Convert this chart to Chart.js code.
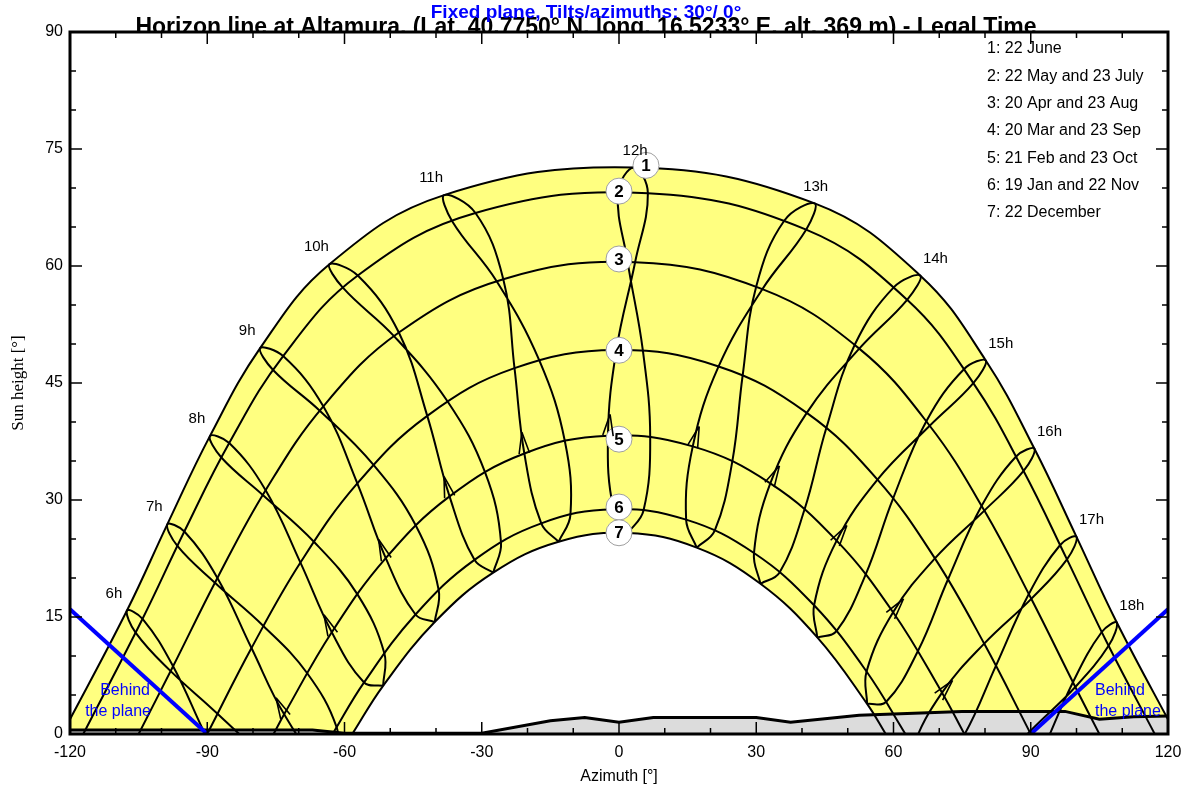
<!DOCTYPE html>
<html lang="en">
<head>
<meta charset="UTF-8">
<title>Horizon line at Altamura - sun path</title>
<script src="https://cdn.jsdelivr.net/npm/chart.js"></script>
<style>
  body { margin: 0; background: #fff; }
</style>
</head>
<body>
<canvas id="chart" width="1194" height="790"></canvas>
<script>
// legal hours of the analemma loops
const hours = [6, 7, 8, 9, 10, 11, 12, 13, 14, 15, 16, 17, 18];

// sun azimuth / height at each hour
// 1: 22 June
const az1  = [-107.55, -98.73, -89.42, -78.44, -63.30, -38.23, 3.29, 42.77, 65.88, 80.17, 90.81, 100.00, 108.81];
const alt1 = [15.83, 26.88, 38.19, 49.47, 60.22, 69.09, 72.63, 68.03, 58.76, 47.89, 36.57, 25.28, 14.29];
// 2: 22 May / 23 July
const az2a  = [-104.14, -95.01, -85.20, -73.41, -57.10, -31.37, 6.31, 40.90, 62.98, 77.45, 88.43, 97.92, 107.01];
const alt2a = [14.77, 25.96, 37.30, 48.45, 58.78, 66.79, 69.33, 64.66, 55.67, 44.99, 33.72, 22.39, 11.31];
const az2b  = [-105.62, -96.53, -86.92, -75.61, -60.36, -36.47, -0.21, 36.15, 60.15, 75.45, 86.80, 96.43, 105.52];
const alt2b = [12.97, 24.11, 35.45, 46.67, 57.22, 65.75, 69.42, 65.83, 57.32, 46.80, 35.58, 24.23, 13.08];
// 3: 20 Apr / 23 Aug
const az3a  = [-97.47, -87.78, -77.24, -64.63, -48.12, -25.29, 3.52, 31.33, 52.51, 67.91, 79.86, 90.11, 99.74];
const alt3a = [8.68, 20.01, 31.26, 42.01, 51.47, 58.30, 60.49, 57.03, 49.41, 39.52, 28.64, 17.33, 6.03];
const az3b  = [-97.99, -88.32, -77.86, -65.41, -49.18, -26.74, 1.89, 29.98, 51.53, 67.18, 79.27, 89.58, 99.22];
const alt3b = [8.06, 19.39, 30.65, 41.45, 51.01, 58.04, 60.53, 57.35, 49.90, 40.10, 29.25, 17.95, 6.64];
// 4: 20 Mar / 23 Sep
const az4a  = [-90.25, -80.33, -69.63, -57.20, -41.91, -22.84, -0.58, 21.77, 41.04, 56.50, 69.05, 79.82, 89.75];
const alt4a = [-0.29, 11.02, 21.98, 32.13, 40.79, 46.90, 49.22, 47.12, 41.17, 32.62, 22.52, 11.59, 0.29];
const az4b  = [-87.76, -77.73, -66.69, -53.66, -37.46, -17.42, 5.23, 27.02, 45.30, 59.90, 71.90, 82.38, 92.24];
const alt4b = [2.59, 13.85, 24.65, 34.49, 42.63, 47.89, 49.11, 45.93, 39.20, 30.18, 19.81, 8.74, -2.59];
// 5: 21 Feb / 23 Oct
const az5a  = [-82.90, -73.19, -62.78, -50.98, -37.04, -20.69, -2.41, 16.12, 33.07, 47.57, 59.91, 70.61, 80.43];
const alt5a = [-8.57, 2.53, 13.05, 22.55, 30.46, 35.96, 38.25, 36.88, 32.14, 24.79, 15.61, 5.30, -5.68];
const az5b  = [-78.16, -68.19, -57.17, -44.39, -29.27, -11.83, 6.82, 24.76, 40.55, 53.91, 65.34, 75.52, 85.16];
const alt5b = [-3.05, 7.82, 17.90, 26.70, 33.53, 37.53, 38.03, 34.92, 28.78, 20.44, 10.64, -0.06, -11.24];
// 6: 19 Jan / 22 Nov
const az6a  = [-74.95, -65.71, -55.72, -44.48, -31.59, -16.99, -1.21, 14.67, 29.50, 42.64, 54.11, 64.26, 73.59];
const alt6a = [-13.98, -3.30, 6.61, 15.32, 22.33, 27.01, 28.82, 27.48, 23.20, 16.50, 8.01, -1.75, -12.34];
const az6b  = [-71.22, -61.73, -51.29, -39.41, -25.79, -10.61, 5.36, 20.92, 35.10, 47.54, 58.41, 68.15, 77.30];
const alt6b = [-9.53, 0.88, 10.35, 18.44, 24.56, 28.13, 28.65, 26.06, 20.71, 13.20, 4.13, -6.01, -16.84];
// 7: 22 December
const az7  = [-70.69, -61.55, -51.56, -40.28, -27.49, -13.20, 1.96, 16.98, 30.92, 43.34, 54.23, 63.95, 72.95];
const alt7 = [-13.68, -3.30, 6.18, 14.35, 20.68, 24.64, 25.76, 23.89, 19.26, 12.39, 3.86, -5.89, -16.44];

// sunrise / sunset azimuth of each date curve
const riseAz = [121.7, 117.1, 105.0, 90.0, 75.5, 62.6, 58.3];

const dateNames = ['1: 22 June', '2: 22 May and 23 July', '3: 20 Apr and 23 Aug', '4: 20 Mar and 23 Sep',
                   '5: 21 Feb and 23 Oct', '6: 19 Jan and 22 Nov', '7: 22 December'];
const circleAz  = [5.9, 0, 0, 0, 0, 0, 0];
const circleAlt = [72.9, 69.6, 60.9, 49.2, 37.8, 29.1, 25.8];

// horizon profile
const horizonAz  = [-120, -67, -60, -30, -15, -7.5, 0, 7.5, 30, 37.5, 52.5, 75, 97.5, 105, 112.5, 120];
const horizonAlt = [0.5, 0.5, 0.1, 0.1, 1.7, 2.1, 1.5, 2.1, 2.1, 1.5, 2.4, 2.9, 2.9, 1.9, 2.2, 2.3];

// limits of the fixed plane
const planeLeftAz = [-120, -90],  planeLeftAlt = [16, 0];
const planeRightAz = [90, 120],   planeRightAlt = [0, 16];

const branchA = [[az1, alt1], [az2a, alt2a], [az3a, alt3a], [az4a, alt4a], [az5a, alt5a], [az6a, alt6a], [az7, alt7]];
const branchB = [[az1, alt1], [az2b, alt2b], [az3b, alt3b], [az4b, alt4b], [az5b, alt5b], [az6b, alt6b], [az7, alt7]];

const pt = (arr, i) => ({ x: arr[0][i], y: arr[1][i] });
const zip = (xs, ys) => xs.map((v, i) => ({ x: v, y: ys[i] }));

function dateCurve(d) {
  const nodes = hours.map((h, i) => pt(branchA[d], i)).filter(p => p.y > 0.5);
  return [{ x: -riseAz[d], y: 0 }, ...nodes, { x: riseAz[d], y: 0 }];
}

function hourLoop(i) {
  const pts = [];
  for (let d = 6; d >= 0; d--) pts.push(pt(branchA[d], i));
  for (let d = 1; d <= 6; d++) pts.push(pt(branchB[d], i));
  return pts;
}

const lineDs = (data, extra) => Object.assign({
  data, showLine: true, pointRadius: 0, borderColor: '#000', borderWidth: 2, tension: 0.4, fill: false
}, extra);

const datasets = [];
datasets.push(lineDs(dateCurve(0), { fill: 'origin', backgroundColor: '#ffff80', order: 20 }));
datasets.push(lineDs(dateCurve(6), { fill: 'origin', backgroundColor: '#ffffff', order: 19 }));
for (let d = 1; d <= 5; d++) datasets.push(lineDs(dateCurve(d), { order: 11 }));
hours.forEach((h, i) => datasets.push(lineDs(hourLoop(i), { order: 10 })));
datasets.push(lineDs(zip(horizonAz, horizonAlt), { tension: 0, borderWidth: 3, fill: 'origin', backgroundColor: '#dcdcdc', order: 3 }));
datasets.push(lineDs(zip(planeLeftAz, planeLeftAlt), { tension: 0, borderWidth: 4, borderColor: '#0000ff', order: 2 }));
datasets.push(lineDs(zip(planeRightAz, planeRightAlt), { tension: 0, borderWidth: 4, borderColor: '#0000ff', order: 2 }));
datasets.push({
  data: zip(circleAz, circleAlt), showLine: false, pointRadius: 13,
  pointBackgroundColor: '#fff', pointBorderColor: '#a0a0a0', pointBorderWidth: 1, order: 1
});

const FONT = 'Liberation Sans, Arial, sans-serif';

const decorations = {
  id: 'decorations',
  afterDatasetsDraw(chart) {
    const { ctx, chartArea: a, scales: { x, y } } = chart;
    ctx.save();
    ctx.strokeStyle = '#000';
    ctx.fillStyle = '#000';

    // direction arrows (January -> June branch)
    ctx.lineWidth = 1.6;
    hours.forEach((h, i) => {
      if (branchA[4][1][i] < 1) return;
      const x0 = x.getPixelForValue(branchA[4][0][i]), y0 = y.getPixelForValue(branchA[4][1][i]);
      const x1 = x.getPixelForValue(branchA[3][0][i]), y1 = y.getPixelForValue(branchA[3][1][i]);
      const tx = x0 + 0.25 * (x1 - x0), ty = y0 + 0.25 * (y1 - y0);
      const ang = Math.atan2(y1 - y0, x1 - x0);
      ctx.beginPath();
      [-1, 1].forEach(s => {
        const b = ang + Math.PI + s * 0.24;
        ctx.moveTo(tx, ty);
        ctx.lineTo(tx + 22 * Math.cos(b), ty + 22 * Math.sin(b));
      });
      ctx.stroke();
    });

    // hour labels above the June node
    ctx.font = '15px ' + FONT;
    ctx.textAlign = 'center';
    ctx.textBaseline = 'middle';
    hours.forEach((h, i) => {
      const px = x.getPixelForValue(az1[i]), py = y.getPixelForValue(alt1[i]);
      const dx = h < 12 ? -13 : (h <= 13 ? 1 : 15);
      ctx.fillText(h + 'h', px + dx, py - 17);
    });

    // numbers in the circles
    ctx.font = 'bold 17px ' + FONT;
    circleAz.forEach((v, i) => {
      ctx.fillText(String(i + 1), x.getPixelForValue(v), y.getPixelForValue(circleAlt[i]) + 1);
    });

    // behind the plane
    ctx.fillStyle = '#0000ff';
    ctx.font = '16px ' + FONT;
    ctx.textAlign = 'right';
    ctx.fillText('Behind', 150, 691);
    ctx.fillText('the plane', 151, 712);
    ctx.textAlign = 'left';
    ctx.fillText('Behind', 1095, 691);
    ctx.fillText('the plane', 1095, 712);

    // legend
    ctx.fillStyle = '#000';
    ctx.font = '16px ' + FONT;
    dateNames.forEach((t, i) => ctx.fillText(t, 987, 49 + 27.3 * i));

    // frame and inner ticks
    ctx.lineWidth = 1.5;
    ctx.beginPath();
    for (let v = 5; v < 90; v += 5) {
      const len = v % 15 === 0 ? 12 : 6, py = y.getPixelForValue(v);
      ctx.moveTo(a.left, py); ctx.lineTo(a.left + len, py);
      ctx.moveTo(a.right, py); ctx.lineTo(a.right - len, py);
    }
    for (let v = -110; v < 120; v += 10) {
      const len = v % 30 === 0 ? 12 : 6, px = x.getPixelForValue(v);
      ctx.moveTo(px, a.top); ctx.lineTo(px, a.top + len);
      ctx.moveTo(px, a.bottom); ctx.lineTo(px, a.bottom - len);
    }
    ctx.stroke();
    ctx.lineWidth = 3;
    ctx.strokeRect(a.left, a.top, a.right - a.left, a.bottom - a.top);
    ctx.restore();
  },
  afterDraw(chart) {
    const { ctx, chartArea: a } = chart;
    ctx.save();
    ctx.beginPath();
    ctx.rect(0, 0, chart.width, a.top - 1);
    ctx.clip();
    ctx.textAlign = 'center';
    ctx.textBaseline = 'alphabetic';
    ctx.fillStyle = '#000';
    ctx.font = 'bold 23px ' + FONT;
    ctx.fillText('Horizon line at Altamura, (Lat. 40.7750° N, long. 16.5233° E, alt. 369 m) - Legal Time', 586, 34);
    ctx.fillStyle = '#0000ff';
    ctx.font = 'bold 19px ' + FONT;
    ctx.fillText('Fixed plane, Tilts/azimuths: 30°/ 0°', 586, 18);
    ctx.restore();
  }
};

new Chart(document.getElementById('chart').getContext('2d'), {
  type: 'scatter',
  data: { datasets },
  options: {
    responsive: false,
    animation: false,
    events: [],
    layout: { padding: { top: 32, right: 26, left: 0, bottom: 0 } },
    plugins: {
      legend: { display: false },
      tooltip: { enabled: false },
      filler: { drawTime: 'beforeDatasetsDraw' }
    },
    scales: {
      x: {
        type: 'linear', min: -120, max: 120,
        ticks: { stepSize: 30, color: '#000', font: { family: FONT, size: 16 }, padding: 9, maxRotation: 0 },
        grid: { display: false, drawTicks: false },
        border: { display: false },
        title: { display: true, text: 'Azimuth [°]', color: '#000', font: { family: FONT, size: 16 }, padding: { top: 0, bottom: 4 } },
        afterFit: s => { s.height = 56; }
      },
      y: {
        type: 'linear', min: 0, max: 90,
        ticks: { stepSize: 15, color: '#000', font: { family: FONT, size: 16 }, padding: 7 },
        grid: { display: false, drawTicks: false },
        border: { display: false },
        title: { display: true, text: 'Sun height [°]', color: '#000', font: { family: 'Liberation Serif', size: 17 }, padding: { top: 8, bottom: 4 } },
        afterFit: s => { s.width = 70; }
      }
    }
  },
  plugins: [decorations]
});
</script>
</body>
</html>
